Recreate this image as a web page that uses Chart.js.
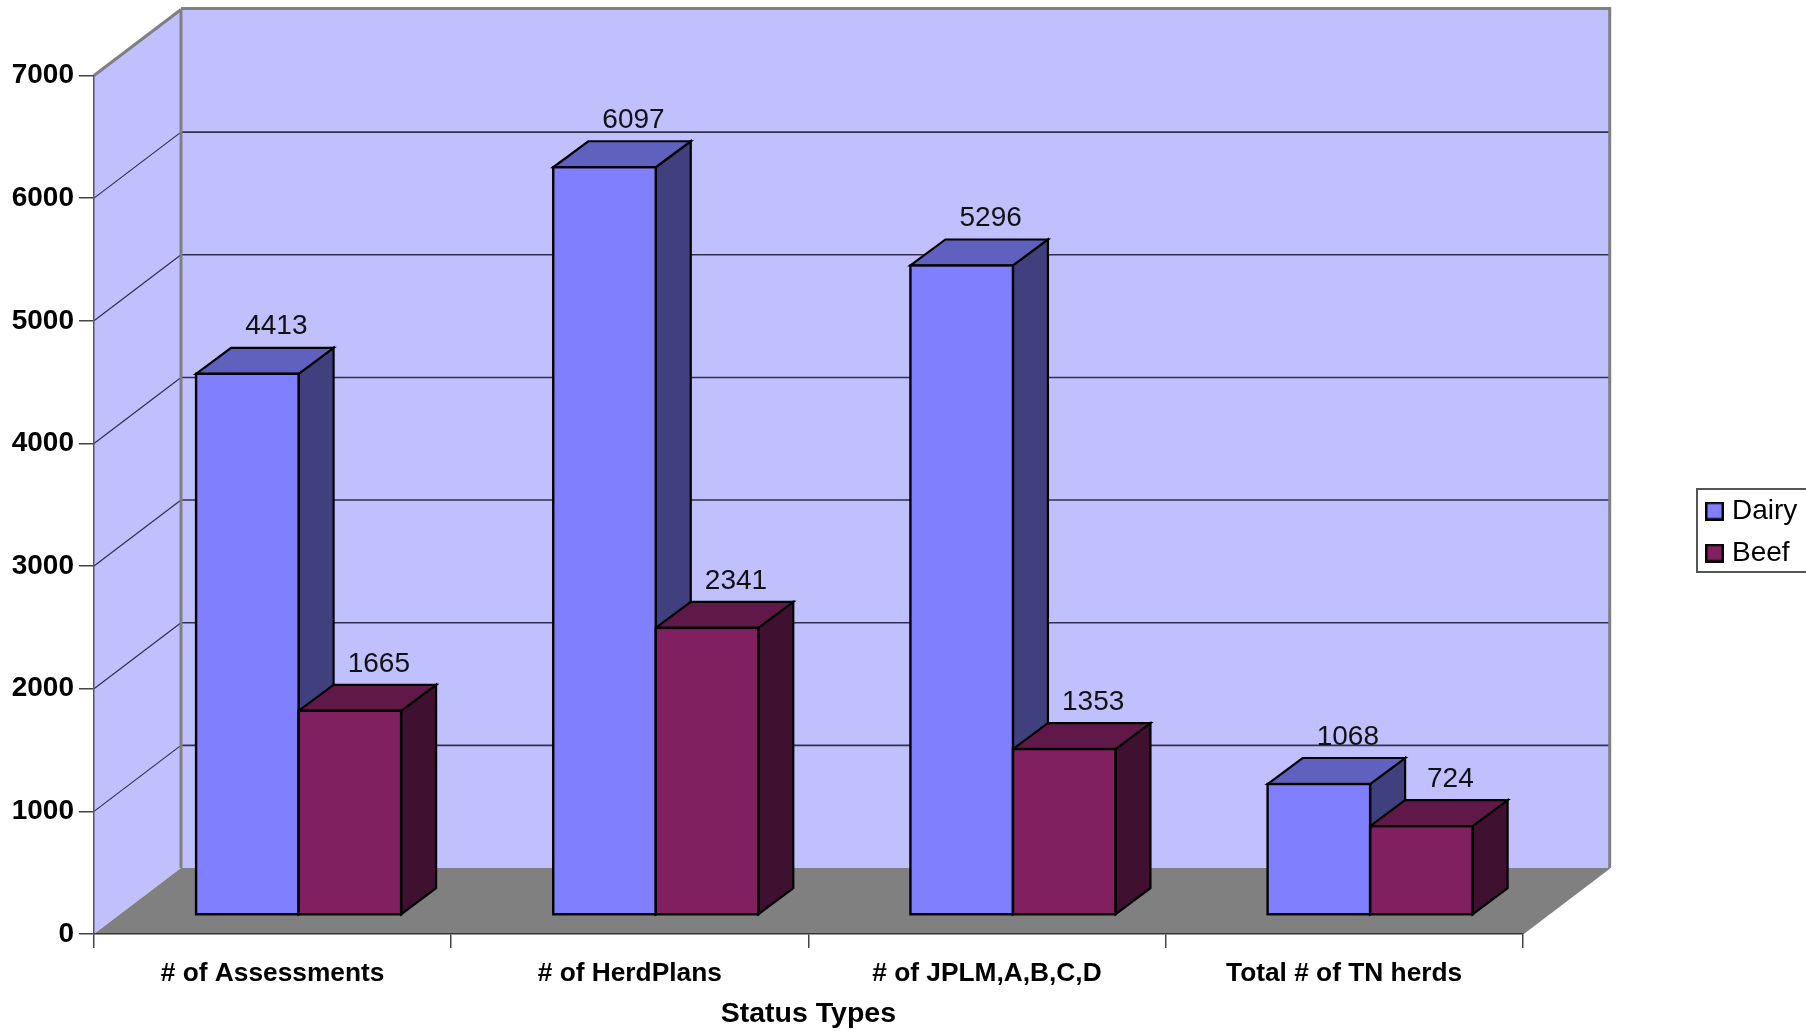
<!DOCTYPE html>
<html>
<head>
<meta charset="utf-8">
<style>html,body{margin:0;padding:0;background:#fff;overflow:hidden}canvas{display:block}</style>
<script src="https://cdn.jsdelivr.net/npm/chart.js@4"></script>
</head>
<body>
<canvas id="c" width="1806" height="1031"></canvas>
<script>
const categories = ['# of Assessments', '# of HerdPlans', '# of JPLM,A,B,C,D', 'Total # of TN herds'];
const dairyValues = [4413, 6097, 5296, 1068];
const beefValues = [1665, 2341, 1353, 724];
const seriesNames = ['Dairy', 'Beef'];
const axisTitleX = 'Status Types';

const FONT = '"Liberation Sans", Arial, sans-serif';
const WALL = { dx: 87, dy: 66 };
const BAR_SHIFT = { x: 26, y: 19 };
const BAR_DEPTH = { x: 35, y: 26 };
const LABEL_OFFSET = { x: 55, y: -47 };
const FACES = [
  { front: '#8080FF', top: '#6060BF', side: '#40407F' },
  { front: '#802060', top: '#601848', side: '#401030' }
];

function poly(ctx, pts, fill, stroke, lw) {
  ctx.beginPath();
  pts.forEach((p, i) => i ? ctx.lineTo(p[0], p[1]) : ctx.moveTo(p[0], p[1]));
  ctx.closePath();
  if (fill) { ctx.fillStyle = fill; ctx.fill(); }
  if (stroke) { ctx.strokeStyle = stroke; ctx.lineWidth = lw; ctx.lineJoin = 'miter'; ctx.stroke(); }
}
function line(ctx, x1, y1, x2, y2, color, lw) {
  ctx.beginPath(); ctx.moveTo(x1, y1); ctx.lineTo(x2, y2);
  ctx.strokeStyle = color; ctx.lineWidth = lw; ctx.stroke();
}
function swatch(color) {
  const s = document.createElement('canvas');
  s.width = 19; s.height = 19;
  const g = s.getContext('2d');
  g.fillStyle = color; g.fillRect(1, 1, 17, 17);
  g.strokeStyle = '#000'; g.lineWidth = 2.5; g.strokeRect(1.25, 1.25, 16.5, 16.5);
  return s;
}

const scene3d = {
  id: 'scene3d',
  beforeDraw(chart) {
    const { ctx, chartArea: a, scales: { y } } = chart;
    const { dx, dy } = WALL;
    ctx.save();
    poly(ctx, [[a.left + dx, a.top - dy], [a.right + dx, a.top - dy], [a.right + dx, a.bottom - dy], [a.left + dx, a.bottom - dy]], '#C0C0FF');
    poly(ctx, [[a.left, a.top], [a.left + dx, a.top - dy], [a.left + dx, a.bottom - dy], [a.left, a.bottom]], '#C0C0FF');
    poly(ctx, [[a.left, a.bottom], [a.left + dx, a.bottom - dy], [a.right + dx, a.bottom - dy], [a.right, a.bottom]], '#808080');
    y.ticks.forEach(t => {
      if (t.value === y.min || t.value === y.max) return;
      const py = y.getPixelForValue(t.value);
      line(ctx, a.left, py, a.left + dx, py - dy, '#30304a', 1.2);
      line(ctx, a.left + dx, py - dy, a.right + dx, py - dy, '#30304a', 1.6);
    });
    line(ctx, a.left + dx, a.top - dy, a.left + dx, a.bottom - dy, '#808080', 3);
    line(ctx, a.left, a.top, a.left + dx, a.top - dy, '#808080', 3);
    line(ctx, a.left + dx, a.top - dy - 1, a.right + dx + 1.5, a.top - dy - 1, '#808080', 3);
    line(ctx, a.right + dx, a.top - dy, a.right + dx, a.bottom - dy, '#808080', 3);
    line(ctx, a.right, a.bottom, a.right + dx, a.bottom - dy, '#808080', 1.5);
    ctx.restore();
  },
  beforeDatasetsDraw(chart) {
    const { ctx } = chart;
    ctx.save();
    ctx.translate(BAR_SHIFT.x, -BAR_SHIFT.y);
    const { x: ox, y: oy } = BAR_DEPTH;
    categories.forEach((_, j) => {
      FACES.forEach((f, i) => {
        const b = chart.getDatasetMeta(i).data[j];
        const l = b.x - b.width / 2, r = b.x + b.width / 2;
        poly(ctx, [[r, b.y], [r + ox, b.y - oy], [r + ox, b.base - oy], [r, b.base]], f.side, '#000', 2.2);
        poly(ctx, [[l, b.y], [l + ox, b.y - oy], [r + ox, b.y - oy], [r, b.y]], f.top, '#000', 2.2);
      });
    });
  },
  afterDatasetsDraw(chart) {
    const { ctx } = chart;
    FACES.forEach((f, i) => {
      chart.getDatasetMeta(i).data.forEach(b => {
        ctx.strokeStyle = '#000'; ctx.lineWidth = 2.4;
        ctx.strokeRect(b.x - b.width / 2, b.y, b.width, b.base - b.y);
      });
    });
    ctx.restore();
    ctx.save();
    ctx.font = '28px ' + FONT;
    ctx.fillStyle = '#111';
    ctx.textAlign = 'center';
    ctx.textBaseline = 'middle';
    chart.data.datasets.forEach((ds, i) => {
      chart.getDatasetMeta(i).data.forEach((b, j) => {
        ctx.fillText(String(ds.data[j]), b.x + LABEL_OFFSET.x, b.y - BAR_SHIFT.y + LABEL_OFFSET.y);
      });
    });
    ctx.restore();
  },
  afterLayout(chart) {
    const lg = chart.legend;
    lg.left = 1697; lg.right = 1806;
    lg.top = 483; lg.bottom = 640;
  },
  afterDraw(chart) {
    const { ctx } = chart;
    ctx.save();
    ctx.strokeStyle = '#555'; ctx.lineWidth = 2;
    ctx.beginPath();
    ctx.moveTo(1812, 489); ctx.lineTo(1697, 489); ctx.lineTo(1697, 572); ctx.lineTo(1812, 572);
    ctx.stroke();
    ctx.restore();
  }
};

new Chart(document.getElementById('c'), {
  type: 'bar',
  data: {
    labels: categories,
    datasets: [
      { label: seriesNames[0], data: dairyValues, backgroundColor: FACES[0].front, borderWidth: 0, clip: false },
      { label: seriesNames[1], data: beefValues, backgroundColor: FACES[1].front, borderWidth: 0, clip: false }
    ]
  },
  options: {
    responsive: false,
    animation: false,
    events: [],
    layout: { padding: { top: 75.5, right: 283.3, left: 0, bottom: 0 } },
    datasets: { bar: { barPercentage: 1, categoryPercentage: 0.574 } },
    plugins: {
      tooltip: { enabled: false },
      title: { display: false },
      legend: {
        display: true,
        position: 'chartArea',
        align: 'start',
        labels: {
          usePointStyle: true, pointStyleWidth: 7, boxHeight: 17, padding: 14, color: '#000',
          font: { family: FONT, size: 28 },
          generateLabels(chart) {
            return chart.data.datasets.map((d, i) => ({
              text: d.label, fillStyle: d.backgroundColor, strokeStyle: '#000',
              lineWidth: 2.5, datasetIndex: i, hidden: false, pointStyle: swatch(d.backgroundColor)
            }));
          }
        }
      }
    },
    scales: {
      x: {
        type: 'category',
        afterFit(s) { s.height = 97; },
        grid: { offset: true, drawOnChartArea: false, drawTicks: true, tickLength: 14, color: '#444', lineWidth: 1.5 },
        border: { display: true, color: '#333', width: 1.5 },
        ticks: { color: '#000', font: { family: FONT, size: 26.3, weight: 'bold' }, padding: 9.5, maxRotation: 0, autoSkip: false },
        title: { display: true, text: axisTitleX, color: '#000', font: { family: FONT, size: 28.5, weight: 'bold' }, padding: { top: 0, bottom: 0 } }
      },
      y: {
        min: 0, max: 7000,
        afterFit(s) { s.width = 94; },
        grid: { drawOnChartArea: false, drawTicks: true, tickLength: 15, color: '#444', lineWidth: 1.5 },
        border: { display: true, color: '#555', width: 1.5 },
        ticks: { stepSize: 1000, callback: v => String(v), color: '#000', font: { family: FONT, size: 28, weight: 'bold' }, padding: 5 }
      }
    }
  },
  plugins: [scene3d]
});
</script>
</body>
</html>
